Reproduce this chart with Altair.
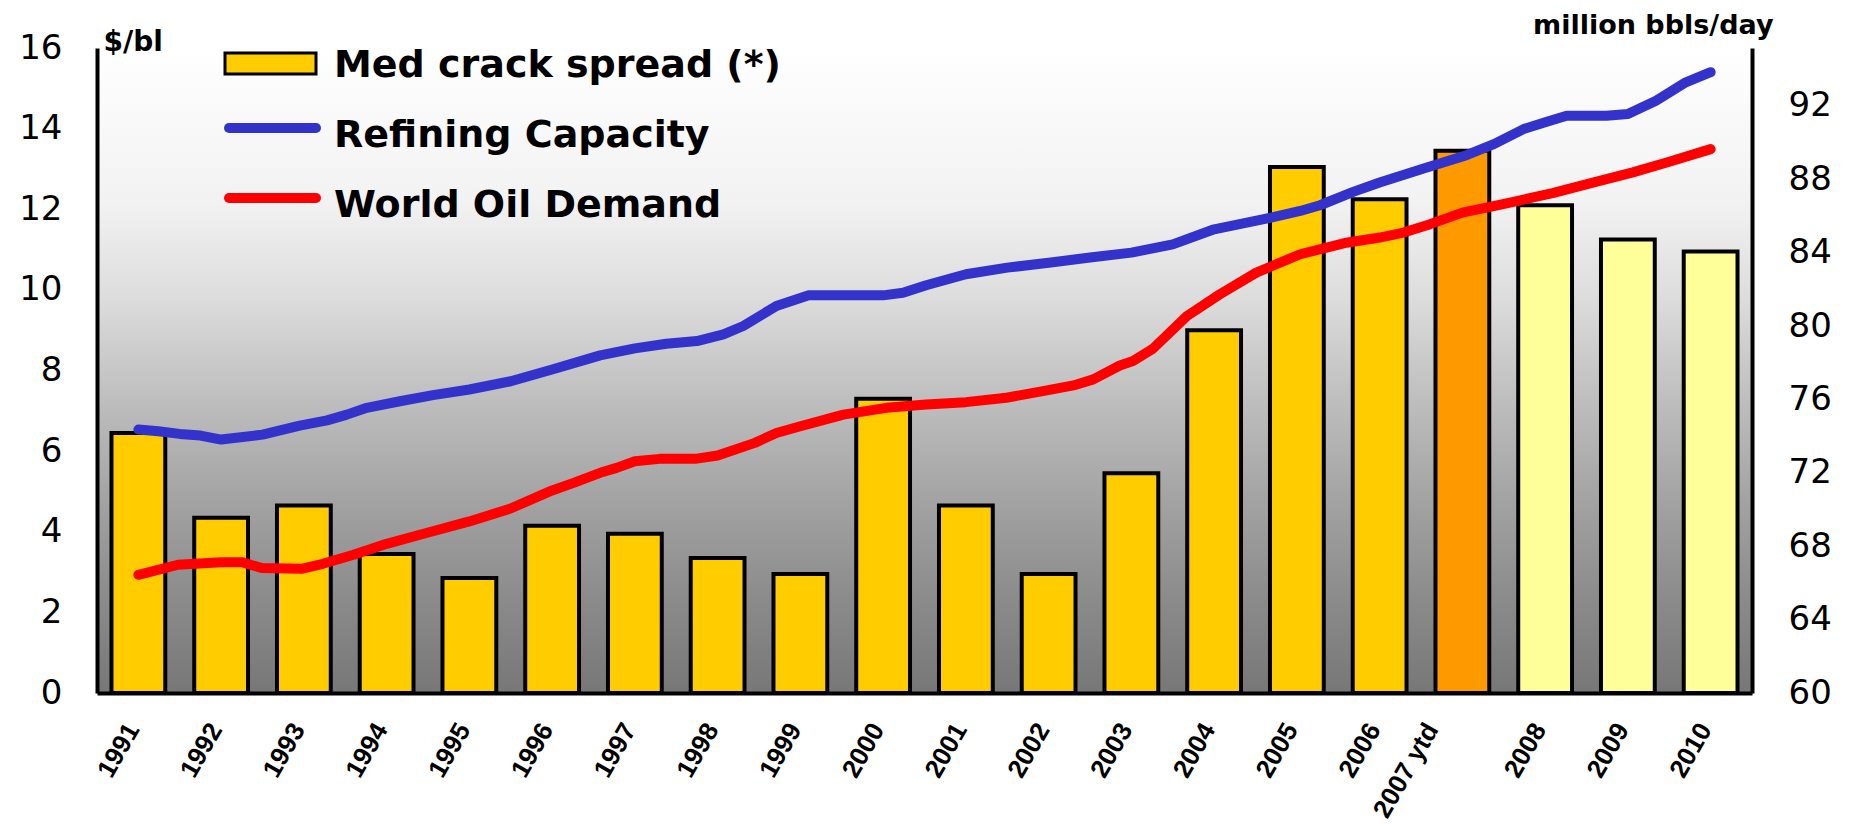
import altair as alt
import pandas as pd

# ---- data -------------------------------------------------------------
years = ["1991", "1992", "1993", "1994", "1995", "1996", "1997", "1998",
         "1999", "2000", "2001", "2002", "2003", "2004", "2005", "2006",
         "2007 ytd", "2008", "2009", "2010"]
crack_spread = [6.45, 4.35, 4.65, 3.45, 2.85, 4.15, 3.95, 3.35, 2.95, 7.3,
                4.65, 2.95, 5.45, 9.0, 13.05, 12.25, 13.45, 12.1, 11.25, 10.95]
bar_kind = ["actual"] * 16 + ["ytd"] + ["forecast"] * 3

# line positions are in year-index units (0 = 1991 ... 19 = 2010)
capacity_t = [0.0, 0.24, 0.5, 0.75, 1.0, 1.5, 1.95, 2.28, 2.52, 2.76, 3.16,
              3.56, 4.0, 4.5, 5.0, 5.58, 6.0, 6.38, 6.75, 7.07, 7.31, 7.71,
              8.1, 9.0, 9.24, 9.52, 10.0, 10.5, 11.0, 11.5, 12.0, 12.5, 13.0,
              13.6, 14.04, 14.28, 14.68, 15.0, 15.57, 16.05, 16.38, 16.74,
              17.02, 17.26, 17.74, 18.0, 18.34, 18.7, 19.0]
capacity_v = [74.36, 74.26, 74.12, 74.03, 73.81, 74.08, 74.57, 74.86, 75.17,
              75.54, 75.9, 76.23, 76.54, 76.99, 77.63, 78.4, 78.78, 79.03,
              79.18, 79.54, 80.0, 81.09, 81.67, 81.67, 81.81, 82.22, 82.82,
              83.18, 83.45, 83.73, 84.0, 84.45, 85.27, 85.82, 86.27, 86.58,
              87.31, 87.82, 88.64, 89.31, 89.91, 90.73, 91.13, 91.46, 91.46,
              91.55, 92.28, 93.28, 93.83]
demand_t = [0.0, 0.48, 1.0, 1.25, 1.49, 1.97, 2.23, 2.6, 3.0, 3.48, 4.0,
            4.49, 5.0, 5.26, 5.58, 5.78, 6.0, 6.3, 6.73, 7.0, 7.45, 7.71, 8.0,
            8.52, 9.04, 9.52, 10.0, 10.49, 10.98, 11.3, 11.54, 11.86, 12.02,
            12.26, 12.67, 13.07, 13.51, 14.04, 14.6, 15.0, 15.29, 15.61, 16.0,
            16.52, 17.09, 17.6, 18.06, 18.47, 19.0]
demand_v = [66.44, 66.99, 67.13, 67.13, 66.81, 66.77, 67.04, 67.53, 68.13,
            68.72, 69.35, 70.04, 71.04, 71.45, 72.0, 72.27, 72.63, 72.76,
            72.76, 72.94, 73.63, 74.17, 74.54, 75.17, 75.54, 75.72, 75.85,
            76.09, 76.49, 76.76, 77.09, 77.85, 78.09, 78.76, 80.54, 81.73,
            82.91, 83.91, 84.54, 84.82, 85.09, 85.55, 86.18, 86.67, 87.24,
            87.84, 88.37, 88.91, 89.64]

series_names = ["Refining Capacity", "World Oil Demand"]
legend_labels = ["Med crack spread (*)", "Refining Capacity", "World Oil Demand"]
left_ticks = [0, 2, 4, 6, 8, 10, 12, 14, 16]
right_ticks = [60, 64, 68, 72, 76, 80, 84, 88, 92]

# ---- frames -----------------------------------------------------------
bars_df = pd.DataFrame({"year": years, "spread": crack_spread, "kind": bar_kind})
lines_df = pd.concat([
    pd.DataFrame({"t": capacity_t, "mbd": capacity_v, "series": series_names[0]}),
    pd.DataFrame({"t": demand_t, "mbd": demand_v, "series": series_names[1]}),
])

W, H = 1655, 645
TICK_FONT = "DejaVu Sans"
BOLD_FONT = "DejaVu Sans"
YEAR_FONT = "Liberation Sans"

# plot-area background: white at the top fading to mid grey at the bottom
backdrop = alt.Chart(pd.DataFrame({"one": [1]})).mark_rect(
    color=alt.LinearGradient(
        gradient="linear", x1=0, x2=0, y1=0, y2=1,
        stops=[
            alt.GradientStop(color="#ffffff", offset=0.0),
            alt.GradientStop(color="#f2f2f2", offset=0.24),
            alt.GradientStop(color="#dcdcdc", offset=0.39),
            alt.GradientStop(color="#bfbfbf", offset=0.54),
            alt.GradientStop(color="#a3a3a3", offset=0.70),
            alt.GradientStop(color="#8a8a8a", offset=0.86),
            alt.GradientStop(color="#777777", offset=1.0),
        ],
    )
).encode(x=alt.value(0), x2=alt.value(W), y=alt.value(0), y2=alt.value(H))

bars = alt.Chart(bars_df).mark_bar(stroke="black", strokeWidth=4).encode(
    x=alt.X("year:N", sort=years,
            scale=alt.Scale(paddingInner=0.35, paddingOuter=0.175),
            axis=alt.Axis(title=None, labelAngle=-60, labelAlign="right",
                          labelBaseline="middle", labelFont=YEAR_FONT,
                          labelFontWeight="bold", labelFontSize=26,
                          labelColor="black", labelPadding=32,
                          labelOffset={"condition": {"test": "datum.value === '2007 ytd'",
                                                     "value": -30},
                                       "value": -5},
                          ticks=False, domainColor="black", domainWidth=4,
                          zindex=1)),
    y=alt.Y("spread:Q", scale=alt.Scale(domain=[0, 16], nice=False),
            axis=alt.Axis(orient="left", values=left_ticks, grid=False,
                          ticks=False, labelFont=TICK_FONT, labelFontSize=34,
                          labelColor="black", labelPadding=35,
                          domainColor="black", domainWidth=4, zindex=1,
                          title="$/bl", titleAngle=0, titleAlign="left",
                          titleBaseline="alphabetic", titleX=6, titleY=2,
                          titleFont=BOLD_FONT, titleFontWeight="bold",
                          titleFontSize=28, titleColor="black")),
    color=alt.Color("kind:N", legend=None,
                    scale=alt.Scale(domain=["actual", "ytd", "forecast"],
                                    range=["#FFCC00", "#FF9900", "#FFFF99"])),
)

lines = alt.Chart(lines_df).mark_line(
    strokeWidth=10, strokeCap="round", strokeJoin="round"
).encode(
    x=alt.X("t:Q", scale=alt.Scale(domain=[-0.5, 19.5], nice=False, zero=False),
            axis=None),
    y=alt.Y("mbd:Q", scale=alt.Scale(domain=[60, 95.15], nice=False, zero=False),
            axis=alt.Axis(orient="right", values=right_ticks, grid=False,
                          ticks=False, labelFont=TICK_FONT, labelFontSize=34,
                          labelColor="black", labelPadding=36,
                          domainColor="black", domainWidth=4, zindex=1,
                          title="million bbls/day", titleAngle=0,
                          titleAlign="right", titleBaseline="alphabetic",
                          titleX=21, titleY=-15, titleFont=BOLD_FONT,
                          titleFontWeight="bold", titleFontSize=27,
                          titleColor="black")),
    color=alt.Color("series:N", legend=None,
                    scale=alt.Scale(domain=series_names,
                                    range=["#3333CC", "#FF0000"])),
    order="t:Q",
)

# ---- legend (top-left inside the plot) ---------------------------------
swatch = alt.Chart(pd.DataFrame({"one": [1]})).mark_rect(
    fill="#FFCC00", stroke="black", strokeWidth=3
).encode(x=alt.value(128), x2=alt.value(219), y=alt.value(5), y2=alt.value(26))

key_capacity = alt.Chart(pd.DataFrame({"one": [1]})).mark_rule(
    color="#3333CC", strokeWidth=10, strokeCap="round"
).encode(x=alt.value(132), x2=alt.value(219), y=alt.value(80))

key_demand = alt.Chart(pd.DataFrame({"one": [1]})).mark_rule(
    color="#FF0000", strokeWidth=10, strokeCap="round"
).encode(x=alt.value(132), x2=alt.value(219), y=alt.value(150))

legend_text = []
for label, base in zip(legend_labels, [29, 99, 169]):
    legend_text.append(
        alt.Chart(pd.DataFrame({"label": [label]})).mark_text(
            align="left", baseline="alphabetic", font=BOLD_FONT,
            fontWeight="bold", fontSize=38, color="black"
        ).encode(text="label:N", x=alt.value(237), y=alt.value(base))
    )

chart = alt.layer(
    backdrop, bars, lines, swatch, key_capacity, key_demand, *legend_text
).resolve_scale(
    x="independent", y="independent", color="independent"
).properties(
    width=W, height=H,
    padding={"left": 97, "top": 48, "right": 100, "bottom": 135},
    autosize=alt.AutoSizeParams(type="none"),
    background="white",
).configure_view(strokeWidth=0)

chart.save("out.html", embed_options={"renderer": "svg", "actions": False})
